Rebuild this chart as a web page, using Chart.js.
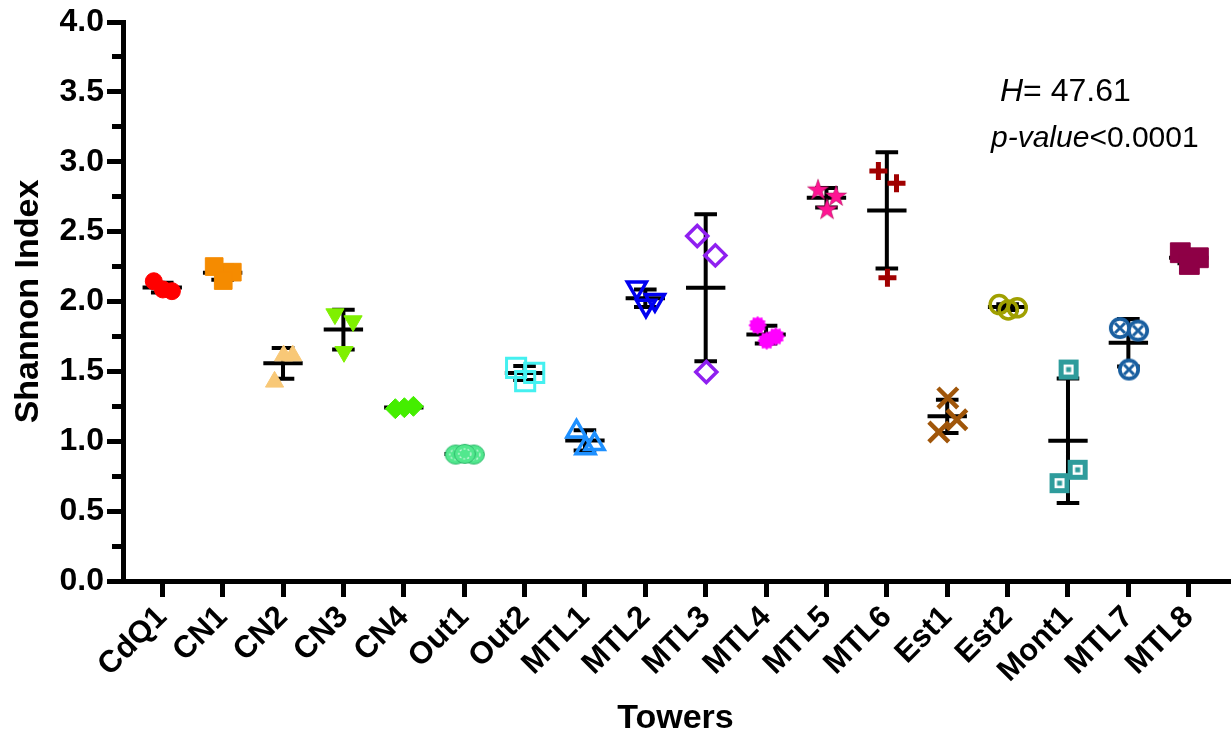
<!DOCTYPE html>
<html><head><meta charset="utf-8">
<script src="https://cdn.jsdelivr.net/npm/chart.js@4.4.1/dist/chart.umd.min.js"></script>
<style>html,body{margin:0;padding:0;background:#fff}#wrap{width:1231px;height:742px;position:relative}</style>
</head><body><div id="wrap"><canvas id="c"></canvas></div>
<script>
// ---- data ----
const categories = ['CdQ1','CN1','CN2','CN3','CN4','Out1','Out2','MTL1','MTL2','MTL3','MTL4','MTL5','MTL6','Est1','Est2','Mont1','MTL7','MTL8'];
const replicateA = [2.145, 2.25, 1.425, 1.91, 1.233, 0.905, 1.525, 1.07, 2.10, 2.468, 1.83, 2.80, 2.934, 1.066, 1.978, 0.70, 1.81, 2.349];
const replicateB = [2.074, 2.21, 1.613, 1.86, 1.25, 0.905, 1.489, 0.98, 2.01, 2.33, 1.75, 2.755, 2.846, 1.154, 1.955, 0.796, 1.792, 2.313];
const replicateC = [2.086, 2.15, 1.613, 1.64, 1.24, 0.91, 1.43, 0.95, 1.97, 1.496, 1.72, 2.66, 2.17, 1.31, 1.94, 1.513, 1.513, 2.265];
const means = [2.10, 2.205, 1.558, 1.799, 1.242, 0.908, 1.489, 1.006, 2.023, 2.098, 1.763, 2.743, 2.652, 1.178, 1.96, 1.004, 1.704, 2.313];
const sds   = [0.035, 0.05, 0.11, 0.142, 0.01, 0.005, 0.05, 0.072, 0.063, 0.526, 0.063, 0.07, 0.416, 0.119, 0.02, 0.445, 0.17, 0.04];
const statLines = [['H', '= 47.61'], ['p-value', '<0.0001']];
const yTitle = 'Shannon Index';
const xTitle = 'Towers';

// ---- styling ----
const FONT = '"Liberation Sans", Arial, Helvetica, sans-serif';
const colors = ['#ff0000','#f58b00','#f8c877','#7ff000','#44ee00','#52e88e','#44f0f0','#1e90ff','#0000f0','#8f20f0','#ff00ff','#ff1493','#a00000','#a0560a','#a0a000','#2e9c9c','#1a5fa0','#8e0046'];
const jitter = [-0.14, 0.16, 0.01];
const meanHalf = 0.326, capHalf = 0.187;

function mk(w, h, draw){ const c=document.createElement('canvas'); c.width=w; c.height=h; draw(c.getContext('2d')); return c; }
const star5 = mk(24,24,g=>{ g.beginPath(); for(let k=0;k<10;k++){ const r=k%2?4.3:11; const a=-Math.PI/2+k*Math.PI/5; g.lineTo(12+r*Math.cos(a),12.5+r*Math.sin(a)); } g.closePath(); g.fillStyle=colors[11]; g.fill(); g.strokeStyle='#b0105a'; g.lineWidth=0.6; g.stroke(); });
const gear = mk(22,22,g=>{ g.beginPath(); for(let k=0;k<24;k++){ const r=k%2?7.4:9.2; const a=k*Math.PI/12; g.lineTo(11+r*Math.cos(a),11+r*Math.sin(a)); } g.closePath(); g.fillStyle=colors[10]; g.fill(); });
const mint = mk(24,22,g=>{ g.beginPath(); g.ellipse(12,11,10.5,9.5,0,0,Math.PI*2); g.fillStyle=colors[5]; g.fill(); g.strokeStyle='#2cb86a'; g.lineWidth=1; g.stroke(); g.setLineDash([2,2]); g.beginPath(); g.ellipse(12,11,6,5,0,0,Math.PI*2); g.strokeStyle='rgba(255,255,255,0.8)'; g.lineWidth=1.2; g.stroke(); });
const montSq = mk(22,22,g=>{ g.fillStyle=colors[15]; g.fillRect(1,1,20,20); g.fillStyle='#fff'; g.fillRect(6,6,10,10); g.fillStyle=colors[15]; g.fillRect(8.5,8.5,5,5); });
const circX = mk(24,24,g=>{ g.beginPath(); g.arc(12,12,11,0,Math.PI*2); g.fillStyle=colors[16]; g.fill(); g.beginPath(); g.arc(12,12,7.3,0,Math.PI*2); g.fillStyle='#fff'; g.fill(); g.strokeStyle=colors[16]; g.lineWidth=3; g.beginPath(); g.moveTo(7,7); g.lineTo(17,17); g.moveTo(17,7); g.lineTo(7,17); g.stroke(); });

const T='rgba(0,0,0,0)';
const styles = [
  {ps:'circle', r:8.5, fill:true},
  {ps:'rect', r:12.5, fill:true},
  {ps:'triangle', r:10.5, fill:true},
  {ps:'triangle', r:10.5, fill:true, rot:180},
  {ps:'rectRot', r:10, fill:true},
  {ps:mint},
  {ps:'rect', r:13.5, bw:3},
  {ps:'triangle', r:11, bw:3.5},
  {ps:'triangle', r:11, bw:3.5, rot:180},
  {ps:'rectRot', r:10.5, bw:3.5},
  {ps:gear},
  {ps:star5},
  {ps:'cross', r:9, bw:5},
  {ps:'crossRot', r:14, bw:4.5},
  {ps:'circle', r:9, bw:3.5},
  {ps:montSq},
  {ps:circX},
  {ps:'rect', r:14, fill:true}
];

// ---- datasets ----
const datasets = [];
categories.forEach((name, i) => {
  const s = styles[i];
  const vals = [replicateA[i], replicateB[i], replicateC[i]];
  const isImg = typeof s.ps !== 'string';
  datasets.push({
    type:'scatter', label:name, order:0,
    data: vals.map((v,k)=>({x:i+jitter[k], y:v})),
    pointStyle: s.ps,
    pointRadius: isImg ? 10 : s.r,
    pointRotation: s.rot || 0,
    backgroundColor: s.fill ? colors[i] : T,
    borderColor: colors[i],
    borderWidth: isImg ? 0 : (s.bw || 1),
    showLine:false, clip:false
  });
});
const meanPts = [], barPts = [], capPts = [];
categories.forEach((n, i) => {
  const m = means[i], sd = sds[i];
  meanPts.push({x:i-meanHalf, y:m}, {x:i+meanHalf, y:m}, {x:i, y:null});
  barPts.push({x:i, y:m-sd}, {x:i, y:m+sd}, {x:i, y:null});
  capPts.push({x:i-capHalf, y:m+sd}, {x:i+capHalf, y:m+sd}, {x:i, y:null},
              {x:i-capHalf, y:m-sd}, {x:i+capHalf, y:m-sd}, {x:i, y:null});
});
[barPts, capPts, meanPts].forEach(pts => datasets.push({
  type:'line', data:pts, order:5, borderColor:'#000', borderWidth:4, pointRadius:0,
  spanGaps:false, tension:0, borderCapStyle:'butt', fill:false
}));

const statsPlugin = {
  id:'stats',
  afterDraw(chart){
    const ctx = chart.ctx; ctx.save(); ctx.fillStyle='#000'; ctx.textBaseline='alphabetic';
    const rows = [{x:1000, y:101, size:32}, {x:991, y:147, size:30}];
    statLines.forEach((parts, k) => {
      const r = rows[k];
      ctx.font = 'italic ' + r.size + 'px ' + FONT;
      ctx.fillText(parts[0], r.x, r.y);
      const w = ctx.measureText(parts[0]).width;
      ctx.font = r.size + 'px ' + FONT;
      ctx.fillText(parts[1], r.x + w, r.y);
    });
    ctx.restore();
  }
};

new Chart(document.getElementById('c'), {
  data:{datasets},
  options:{
    responsive:true, maintainAspectRatio:false, animation:false, events:[],
    devicePixelRatio:1,
    layout:{autoPadding:false, padding:{top:22, right:3, left:0, bottom:0}},
    plugins:{legend:{display:false}, tooltip:{enabled:false}},
    scales:{
      x:{
        type:'linear', min:-0.65, max:17.65, offset:false,
        afterBuildTicks: ax => { ax.ticks = categories.map((c,i)=>({value:i})); },
        afterFit: ax => { ax.height = 161; ax.paddingLeft = 0; ax.paddingRight = 0; },
        border:{display:true, color:'#000', width:5},
        grid:{drawOnChartArea:false, drawTicks:true, tickLength:16, tickWidth:5, tickColor:'#000', color:'#000', lineWidth:5},
        ticks:{autoSkip:false, maxRotation:45, minRotation:45, padding:2, color:'#000',
               font:{family:FONT, weight:'bold', size:31},
               callback: v => categories[v] ?? ''},
        title:{display:true, text:xTitle, color:'#000', font:{family:FONT, weight:'bold', size:34}, padding:{top:0,bottom:3}}
      },
      y:{
        type:'linear', min:0, max:4, weight:1, position:'left',
        afterBuildTicks: ax => { ax.ticks = [0,0.5,1,1.5,2,2.5,3,3.5,4].map(v=>({value:v})); },
        afterFit: ax => { ax.width = 123; ax.paddingTop = 0; ax.paddingBottom = 0; },
        border:{display:true, color:'#000', width:5},
        grid:{drawOnChartArea:false, drawTicks:true, tickLength:16, tickWidth:5, tickColor:'#000', color:'#000', lineWidth:5},
        ticks:{padding:3, color:'#000', font:{family:FONT, weight:'bold', size:32}, callback: v => Number(v).toFixed(1)},
        title:{display:true, text:yTitle, color:'#000', font:{family:FONT, weight:'bold', size:34}, padding:{top:8,bottom:0}}
      },
      yMinor:{
        type:'linear', min:0, max:4, weight:0, position:'left',
        afterBuildTicks: ax => { ax.ticks = [0.25,0.75,1.25,1.75,2.25,2.75,3.25,3.75].map(v=>({value:v})); },
        afterFit: ax => { ax.width = 0; ax.paddingTop = 0; ax.paddingBottom = 0; },
        border:{display:false},
        grid:{drawOnChartArea:false, drawTicks:true, tickLength:11, tickWidth:5, tickColor:'#000', color:'#000', lineWidth:5},
        ticks:{display:false}
      }
    }
  },
  plugins:[statsPlugin]
});
</script></body></html>
